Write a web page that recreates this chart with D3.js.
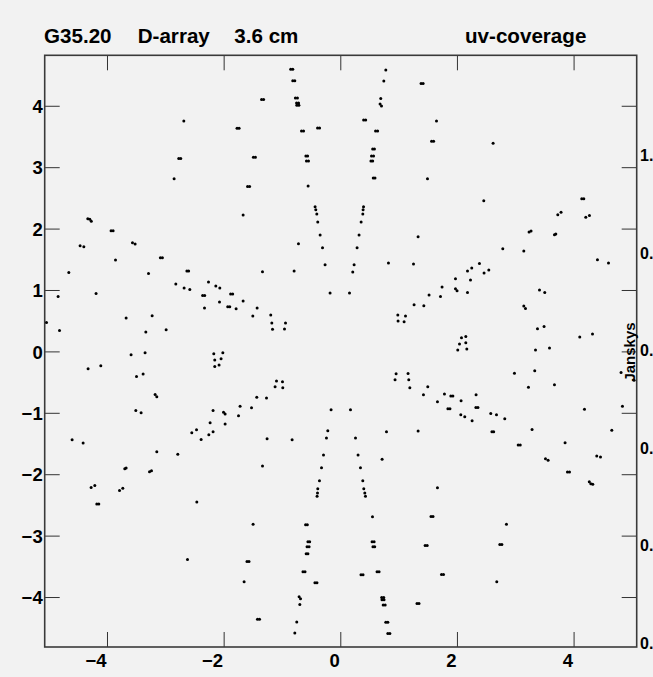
<!DOCTYPE html>
<html>
<head>
<meta charset="utf-8">
<script src="https://cdn.jsdelivr.net/npm/d3@7"></script>
<style>
  html, body { margin: 0; padding: 0; background: #f2f2f2; }
  svg { display: block; }
  text { font-family: "Liberation Sans", Arial, Helvetica, sans-serif; font-weight: bold; fill: #000; }
</style>
</head>
<body>
<svg id="chart" width="653" height="677"></svg>
<script>
// Sampled baselines (u, v) in kilo-wavelengths, northern half of the uv-plane.
// Each baseline also samples its conjugate point (-u, -v).
const baselineU = [
  -2.683, -1.770, -1.735, -2.770, -2.735, -2.849, -4.329, -4.295, -4.269, -1.666,
  -3.930, -3.895, -4.461, -4.397, -3.563, -3.518, -3.854, -3.085, -3.050, -4.655,
  -3.288, -2.630, -2.600, -2.820, -2.260, -2.134, -2.066, -2.678, -2.580, -2.360,
  -2.325, -1.880, -1.845, -1.666, -2.071, -1.930, -1.895, -1.786, -2.328, -4.838,
  -4.187, -3.672, -3.226, -4.814, -3.334, -2.986, -5.037,
  -0.850, -0.815, 0.780, -0.815, -0.780, 0.746, 1.385, 1.420, -1.350, -1.315,
  -0.770, -0.735, -0.750, -0.715, -0.745, -0.710, 0.694, 0.682, 0.706, 0.400,
  0.435, 1.649, -0.665, -0.630, -0.390, -0.355, 0.605, 0.640, 1.565, 1.600,
  0.555, 0.585, 0.535, 0.570, 0.525, 0.555, -0.590, -0.560, -0.580, -0.545,
  -1.490, -1.455, 0.565, 0.595, 1.495, -1.590, -1.555, -0.552, -0.432, -0.420,
  -0.403, 0.398, 0.391, 0.386, -0.386, 0.357, -0.346, 0.322, 1.334, -0.717,
  -0.305, 0.288, -0.261, 0.237, 0.214, 0.826, 1.255, -1.334, -0.792, -0.175,
  0.158, 1.745, 1.522, 1.718, 1.265, 1.432, -1.426, -1.500, -1.192, -1.174,
  -0.939, -1.162, -0.957, 0.986, 1.118, 0.991, 1.094,
  2.620, 2.460, 4.140, 4.175, 3.729, 3.785, 4.209, 4.272, 3.237, 3.271,
  3.672, 3.695, 2.786, 3.146, 4.409, 4.598, 2.386, 2.254, 2.181, 2.546,
  2.465, 2.232, 1.975, 1.975, 2.002, 2.181, 3.415, 3.506, 3.146, 3.175,
  3.381, 3.494, 4.106, 4.324, 2.078, 2.152, 2.044, 2.152, 2.014, 2.169,
  3.347, 3.587
];
const baselineV = [
  3.752, 3.632, 3.632, 3.143, 3.143, 2.813, 2.162, 2.154, 2.121, 2.222,
  1.966, 1.966, 1.721, 1.705, 1.771, 1.749, 1.488, 1.526, 1.526, 1.286,
  1.270, 1.309, 1.309, 1.097, 1.130, 1.065, 1.033, 1.033, 1.010, 0.912,
  0.912, 0.935, 0.935, 0.821, 0.805, 0.727, 0.727, 0.695, 0.706, 0.895,
  0.944, 0.544, 0.582, 0.342, 0.315, 0.354, 0.470,
  4.594, 4.594, 4.584, 4.409, 4.409, 4.405, 4.361, 4.361, 4.104, 4.104,
  4.128, 4.128, 4.046, 4.046, 4.007, 4.007, 4.120, 4.030, 3.997, 3.769,
  3.769, 3.753, 3.590, 3.590, 3.639, 3.639, 3.590, 3.590, 3.421, 3.421,
  3.296, 3.296, 3.183, 3.183, 3.101, 3.101, 3.183, 3.183, 3.101, 3.101,
  3.160, 3.160, 2.824, 2.824, 2.813, 2.687, 2.687, 2.694, 2.357, 2.308,
  2.238, 2.357, 2.308, 2.238, 2.107, 2.107, 1.896, 1.896, 1.868, 1.755,
  1.689, 1.689, 1.412, 1.412, 1.293, 1.440, 1.424, 1.298, 1.309, 0.951,
  0.951, 1.049, 0.918, 0.895, 0.761, 0.745, 0.706, 0.577, 0.593, 0.462,
  0.462, 0.359, 0.365, 0.593, 0.577, 0.495, 0.483,
  3.388, 2.454, 2.487, 2.487, 2.227, 2.264, 2.183, 2.215, 1.945, 1.961,
  1.900, 1.912, 1.673, 1.635, 1.493, 1.440, 1.433, 1.359, 1.309, 1.326,
  1.277, 1.163, 1.184, 1.021, 0.989, 0.961, 1.000, 0.961, 0.740, 0.700,
  0.370, 0.407, 0.234, 0.283, 0.223, 0.244, 0.121, 0.142, 0.023, 0.039,
  0.023, 0.055
];

const xTicks = [-4, -2, 0, 2, 4];
const yTicks = [-4, -3, -2, -1, 0, 1, 2, 3, 4];
const paletteTicks = [0.0, 0.2, 0.4, 0.6, 0.8, 1.0];
const titleParts = ["G35.20", "D-array", "3.6 cm"];
const rightTitle = "uv-coverage";
const paletteLabel = "Janskys";

// Full sample set: every baseline plus its Hermitian conjugate.
const samples = [];
baselineU.forEach((u, i) => {
  samples.push({ u: u, v: baselineV[i] });
  samples.push({ u: -u, v: -baselineV[i] });
});

const svg = d3.select("#chart");
const frame = { left: 44.7, right: 636.7, top: 55.3, bottom: 647 };

const x = d3.scaleLinear().domain([-5.068, 5.082]).range([frame.left, frame.right]);
const y = d3.scaleLinear().domain([-4.814, 4.822]).range([frame.bottom, frame.top]);
const z = d3.scaleLinear().domain([0, 1]).range([frame.bottom, frame.bottom - 488]);

svg.append("rect").attr("width", 653).attr("height", 677).attr("fill", "#f2f2f2");

// Tick marks on all four sides, pointing into the frame
const tickLen = 15;
function styleAxis(g) {
  g.select(".domain").remove();
  g.selectAll(".tick line").attr("stroke", "#333").attr("stroke-width", 1);
}

const gLeft = svg.append("g").attr("transform", `translate(${frame.left},0)`)
  .call(d3.axisLeft(y).tickValues(yTicks).tickSize(-tickLen).tickPadding(2).tickFormat(d3.format("d")));
styleAxis(gLeft);
gLeft.selectAll(".tick text")
  .attr("font-size", 18.5).attr("dy", "0.36em")
  .style("font-family", "'Liberation Sans', Arial, sans-serif").style("font-weight", "bold").attr("fill", "#000");

const gRight = svg.append("g").attr("transform", `translate(${frame.right},0)`)
  .call(d3.axisRight(y).tickValues(yTicks).tickSize(-tickLen).tickFormat(""));
styleAxis(gRight);

const gTop = svg.append("g").attr("transform", `translate(0,${frame.top})`)
  .call(d3.axisTop(x).tickValues(xTicks).tickSize(-tickLen).tickFormat(""));
styleAxis(gTop);

const gBottom = svg.append("g").attr("transform", `translate(0,${frame.bottom})`)
  .call(d3.axisBottom(x).tickValues(xTicks).tickSize(-tickLen).tickFormat(d3.format("d")));
styleAxis(gBottom);
gBottom.selectAll(".tick text")
  .attr("font-size", 18.5).attr("text-anchor", "end").attr("x", -1).attr("y", 19.5).attr("dy", 0)
  .style("font-family", "'Liberation Sans', Arial, sans-serif").style("font-weight", "bold").attr("fill", "#000");

// Frame
svg.append("rect")
  .attr("x", frame.left).attr("y", frame.top)
  .attr("width", frame.right - frame.left).attr("height", frame.bottom - frame.top)
  .attr("fill", "none").attr("stroke", "#3a3a3a").attr("stroke-width", 1.6);

// uv samples
svg.append("g").selectAll("circle").data(samples).join("circle")
  .attr("cx", d => x(d.u)).attr("cy", d => y(d.v)).attr("r", 1.5).attr("fill", "#000");

// Flux scale labels on the right edge
svg.append("g").selectAll("text").data(paletteTicks).join("text")
  .attr("x", 640).attr("y", d => z(d) + 2)
  .attr("font-size", 16)
  .text(d => d.toFixed(1));

svg.append("text")
  .attr("transform", "translate(635,352) rotate(-90)")
  .attr("text-anchor", "middle").attr("font-size", 15)
  .text(paletteLabel);

// Titles
const titleX = [44, 137.7, 234.3];
svg.append("g").selectAll("text").data(titleParts).join("text")
  .attr("x", (d, i) => titleX[i]).attr("y", 42.7)
  .attr("font-size", 20.6).text(d => d);
svg.append("text").attr("x", 465).attr("y", 42.7).attr("font-size", 20.6).text(rightTitle);
</script>
</body>
</html>
